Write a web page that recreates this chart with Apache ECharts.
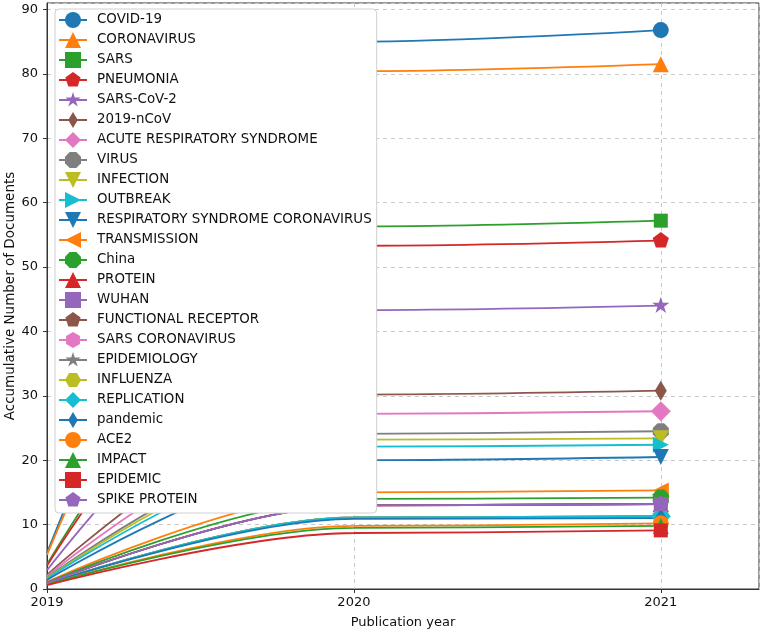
<!DOCTYPE html>
<html><head><meta charset="utf-8">
<script src="https://cdn.jsdelivr.net/npm/echarts@6/dist/echarts.min.js"></script>
<style>html,body{margin:0;padding:0;background:#fff}#c{width:762px;height:631px}</style>
</head><body><div id="c"></div>
<script>
// ---------- DATA ----------
const years = [2019, 2020, 2021];
const keywords = ['COVID-19','CORONAVIRUS','SARS','PNEUMONIA','SARS-CoV-2','2019-nCoV',
  'ACUTE RESPIRATORY SYNDROME','VIRUS','INFECTION','OUTBREAK','RESPIRATORY SYNDROME CORONAVIRUS',
  'TRANSMISSION','China','PROTEIN','WUHAN','FUNCTIONAL RECEPTOR','SARS CORONAVIRUS','EPIDEMIOLOGY',
  'INFLUENZA','REPLICATION','pandemic','ACE2','IMPACT','EPIDEMIC','SPIKE PROTEIN'];
const values2019 = [5.6, 5.3, 3.8, 3.6, 2.9, 2.2, 2.0, 1.8, 1.7, 1.6, 1.4, 1.1, 1.0, 0.9, 0.9, 0.9,
  0.8, 0.8, 0.8, 0.8, 0.8, 0.7, 0.7, 0.6, 0.9];
const values2020 = [85.0, 80.4, 56.3, 53.3, 43.3, 30.2, 27.2, 24.1, 23.2, 22.1, 20.0, 15.0, 14.0, 13.0, 13.0, 13.0,
  11.1, 11.1, 11.1, 11.1, 10.9, 9.8, 9.5, 8.7, 13.0];
const values2021 = [86.8, 81.5, 57.2, 54.1, 44.0, 30.8, 27.6, 24.5, 23.4, 22.4, 20.5, 15.3, 14.2, 13.2, 13.2, 13.2,
  11.3, 11.3, 11.2, 11.3, 11.0, 10.2, 9.8, 9.1, 13.2];
const yTicks = [0, 10, 20, 30, 40, 50, 60, 70, 80, 90];
const xTicks = [2019, 2020, 2021];

// ---------- STYLE ----------
const palette = ['#1f77b4','#ff7f0e','#2ca02c','#d62728','#9467bd','#8c564b','#e377c2','#7f7f7f','#bcbd22','#17becf'];
const markerKinds = ['o','^','s','p','*','d','D','8','v','>','v','<','8','^','s','p','h','*','H','D','d','o','^','s','p'];
const PAD = 'M0,0 M100,100 ';
const markerDefs = {
  'o': {symbol: 'circle', size: 16},
  '^': {symbol: 'triangle', size: 16},
  'v': {symbol: 'path://M0,0 L100,0 L50,100 Z', size: 16},
  '>': {symbol: 'path://M0,0 L100,50 L0,100 Z', size: 16},
  '<': {symbol: 'path://M100,0 L0,50 L100,100 Z', size: 16},
  's': {symbol: 'rect', size: 14},
  'p': {symbol: 'path://' + PAD + 'M50,0 L97.6,34.5 L79.4,90.5 L20.6,90.5 L2.4,34.5 Z', size: 17},
  '*': {symbol: 'path://' + PAD + 'M50,0 L61.2,34.5 L97.6,34.5 L68.2,55.9 L79.4,90.5 L50,69.1 L20.6,90.5 L31.8,55.9 L2.4,34.5 L38.8,34.5 Z', size: 18},
  'd': {symbol: 'path://' + PAD + 'M50,0 L80,50 L50,100 L20,50 Z', size: 20},
  'D': {symbol: 'diamond', size: 20},
  '8': {symbol: 'path://M96.2,69.1 L69.1,96.2 L30.9,96.2 L3.8,69.1 L3.8,30.9 L30.9,3.8 L69.1,3.8 L96.2,30.9 Z', size: 16},
  'h': {symbol: 'path://' + PAD + 'M50,0 L93.3,25 L93.3,75 L50,100 L6.7,75 L6.7,25 Z', size: 17},
  'H': {symbol: 'path://' + PAD + 'M100,50 L75,93.3 L25,93.3 L0,50 L25,6.7 L75,6.7 Z', size: 17}
};

const FONT = 'DejaVu Sans';
const series = keywords.map((name, i) => {
  const color = palette[i % 10];
  const m = markerDefs[markerKinds[i]];
  const vals = [values2019[i], values2020[i], values2021[i]];
  return {
    name, type: 'line',
    smooth: 0.35, smoothMonotone: 'x',
    data: years.map((y, j) => [y, vals[j]]),
    symbol: m.symbol,
    symbolSize: (v, p) => (p.dataIndex === years.length - 1 ? m.size : 0),
    showSymbol: true, showAllSymbol: true,
    lineStyle: {width: 1.8, color},
    itemStyle: {color, borderWidth: 0},
    emphasis: {disabled: true},
    clip: false
  };
});

const chart = echarts.init(document.getElementById('c'), null, {renderer: 'canvas'});
chart.setOption({
  animation: false,
  backgroundColor: '#fff',
  textStyle: {fontFamily: FONT},
  grid: {left: 47, right: 3, top: 3, bottom: 42, show: true, borderColor: '#333', borderWidth: 1,
    containLabel: false, outerBoundsMode: 'none'},
  xAxis: {
    type: 'value', min: 2019, max: 2021.32, interval: 1,
    name: 'Publication year', nameLocation: 'middle', nameGap: 27, nameMoveOverlap: false,
    nameTextStyle: {fontFamily: FONT, fontSize: 13, color: '#111'},
    axisLine: {show: true, lineStyle: {color: '#333', width: 1}},
    axisTick: {show: true, inside: false, length: 4, lineStyle: {color: '#333'}},
    axisLabel: {fontFamily: FONT, fontSize: 13, color: '#111', margin: 7, showMaxLabel: false,
      formatter: v => (xTicks.includes(v) ? String(v) : '')},
    splitLine: {show: true, lineStyle: {color: '#c8c8c8', type: [4, 4], width: 1}}
  },
  yAxis: {
    type: 'value', min: 0, max: 91, interval: 10,
    name: 'Accumulative Number of Documents', nameLocation: 'middle', nameGap: 30, nameMoveOverlap: false,
    nameTextStyle: {fontFamily: FONT, fontSize: 13.5, color: '#111'},
    axisLine: {show: true, lineStyle: {color: '#333', width: 1}},
    axisTick: {show: true, inside: false, length: 4, lineStyle: {color: '#333'}},
    axisLabel: {fontFamily: FONT, fontSize: 13, color: '#111', margin: 9, showMaxLabel: false,
      formatter: v => (yTicks.includes(v) ? String(v) : '')},
    splitLine: {show: true, lineStyle: {color: '#c8c8c8', type: [4, 4], width: 1}}
  },
  legend: {
    orient: 'vertical', left: 55, top: 9,
    padding: [1, 5, 3, 3], itemGap: 0, itemWidth: 28, itemHeight: 20,
    backgroundColor: '#ffffff', borderColor: '#d0d0d0', borderWidth: 1, borderRadius: 4,
    textStyle: {fontFamily: FONT, fontSize: 13.4, color: '#111', lineHeight: 20, padding: [0, 0, 0, 5]},
    selectedMode: false,
    data: keywords
  },
  series
});
</script></body></html>
